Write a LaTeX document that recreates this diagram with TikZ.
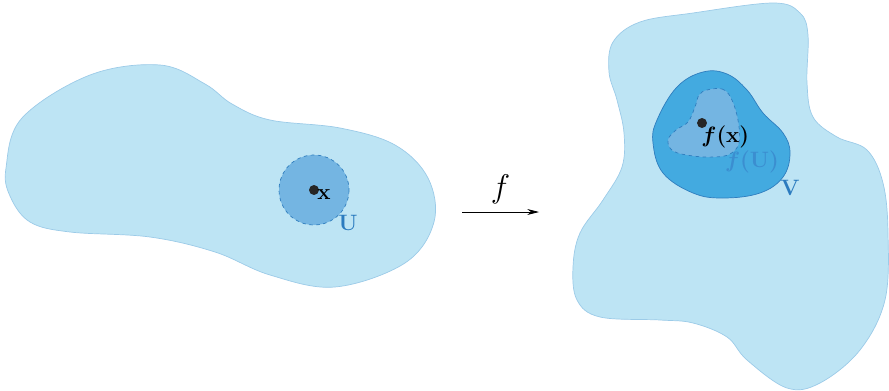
\RequirePackage{fix-cm}
\documentclass[tikz,border=0pt]{standalone}
\usepackage{amsmath}
\usetikzlibrary{arrows.meta}
\definecolor{paleblue}{HTML}{BDE4F4}
\definecolor{paleedge}{HTML}{9CCBE8}
\definecolor{midblue}{HTML}{74B5E2}
\definecolor{deepblue}{HTML}{43AAE0}
\definecolor{edgeblue}{HTML}{2F7DBE}
\definecolor{labelblue}{HTML}{2B7BBF}
\definecolor{softlabel}{HTML}{3B8ED0}
\tikzset{
  region/.style={fill=paleblue, draw=paleedge, line width=0.6pt},
  subset/.style={fill=midblue, draw=edgeblue, dashed, line width=0.6pt},
  pt/.style={circle, fill=black!85, inner sep=0pt, minimum size=8.5pt},
  lbl/.style={inner sep=1pt, font=\fontsize{19}{22}\selectfont\boldmath}
}
\begin{document}
\begin{tikzpicture}[x=0.03cm, y=-0.03cm]
    \useasboundingbox (0,0) rectangle (889,391);

    % Domain
    \draw[region] plot[smooth cycle, tension=0.6] coordinates {
        (6,168) (22,118) (90,75) (160,65) (205,84) (232,104) (270,120)
        (340,128) (395,145) (428,178) (434,222) (405,263) (335,287)
        (270,275) (215,252) (150,237) (70,232) (30,222) (10,196)};
    \draw[subset] (314,190) circle (35);
    \node[pt] (x) at (314,190) {};
    \node[lbl, anchor=north west] (xlbl) at (316,188) {$\mathbf{x}$};
    \node[lbl, text=labelblue] (U) at (348,223) {\textbf{U}};

    % Map
    \coordinate (fstart) at (462,212);
    \coordinate (fend) at (539,212);
    \draw[-{Stealth[length=10pt, width=5pt]}, line width=0.6pt] (fstart) -- (fend)
        node[midway, above=3pt, font=\fontsize{28}{32}\selectfont] (f) {$f$};

    % Image
    \draw[region] plot[smooth cycle, tension=0.6] coordinates {
        (609,72) (613,42) (640,22) (693,13) (773,3) (800,13) (808,35)
        (807,83) (813,117) (837,137) (867,150) (883,183) (888,233)
        (885,300) (860,350) (820,383) (787,388) (747,360) (727,337)
        (693,323) (660,320) (600,317) (577,300) (573,267) (580,233)
        (603,200) (622,167) (624,133) (617,100)};
    \draw[fill=deepblue, draw=edgeblue, line width=0.6pt] plot[smooth cycle, tension=0.65] coordinates {
        (703,72) (677,87) (657,120) (653,143) (663,173) (693,193)
        (723,198) (760,193) (783,177) (790,153) (783,133) (763,113)
        (747,90) (727,74)};
    \draw[subset] plot[smooth cycle, tension=0.6] coordinates {
        (707,90) (722,89) (731,98) (738,120) (739,143) (730,154)
        (715,157) (693,156) (673,151) (668,140) (676,130) (688,122)
        (695,107) (699,95)};
    \node[pt] (fx) at (702,123) {};
    \node[lbl, anchor=north west] (fxlbl) at (700,124) {$f(\mathbf{x})$};
    \node[lbl, text=softlabel] (fU) at (752,162) {$f(\mathbf{U})$};
    \node[lbl, text=labelblue] (V) at (790,188) {\textbf{V}};
\end{tikzpicture}
\end{document}
